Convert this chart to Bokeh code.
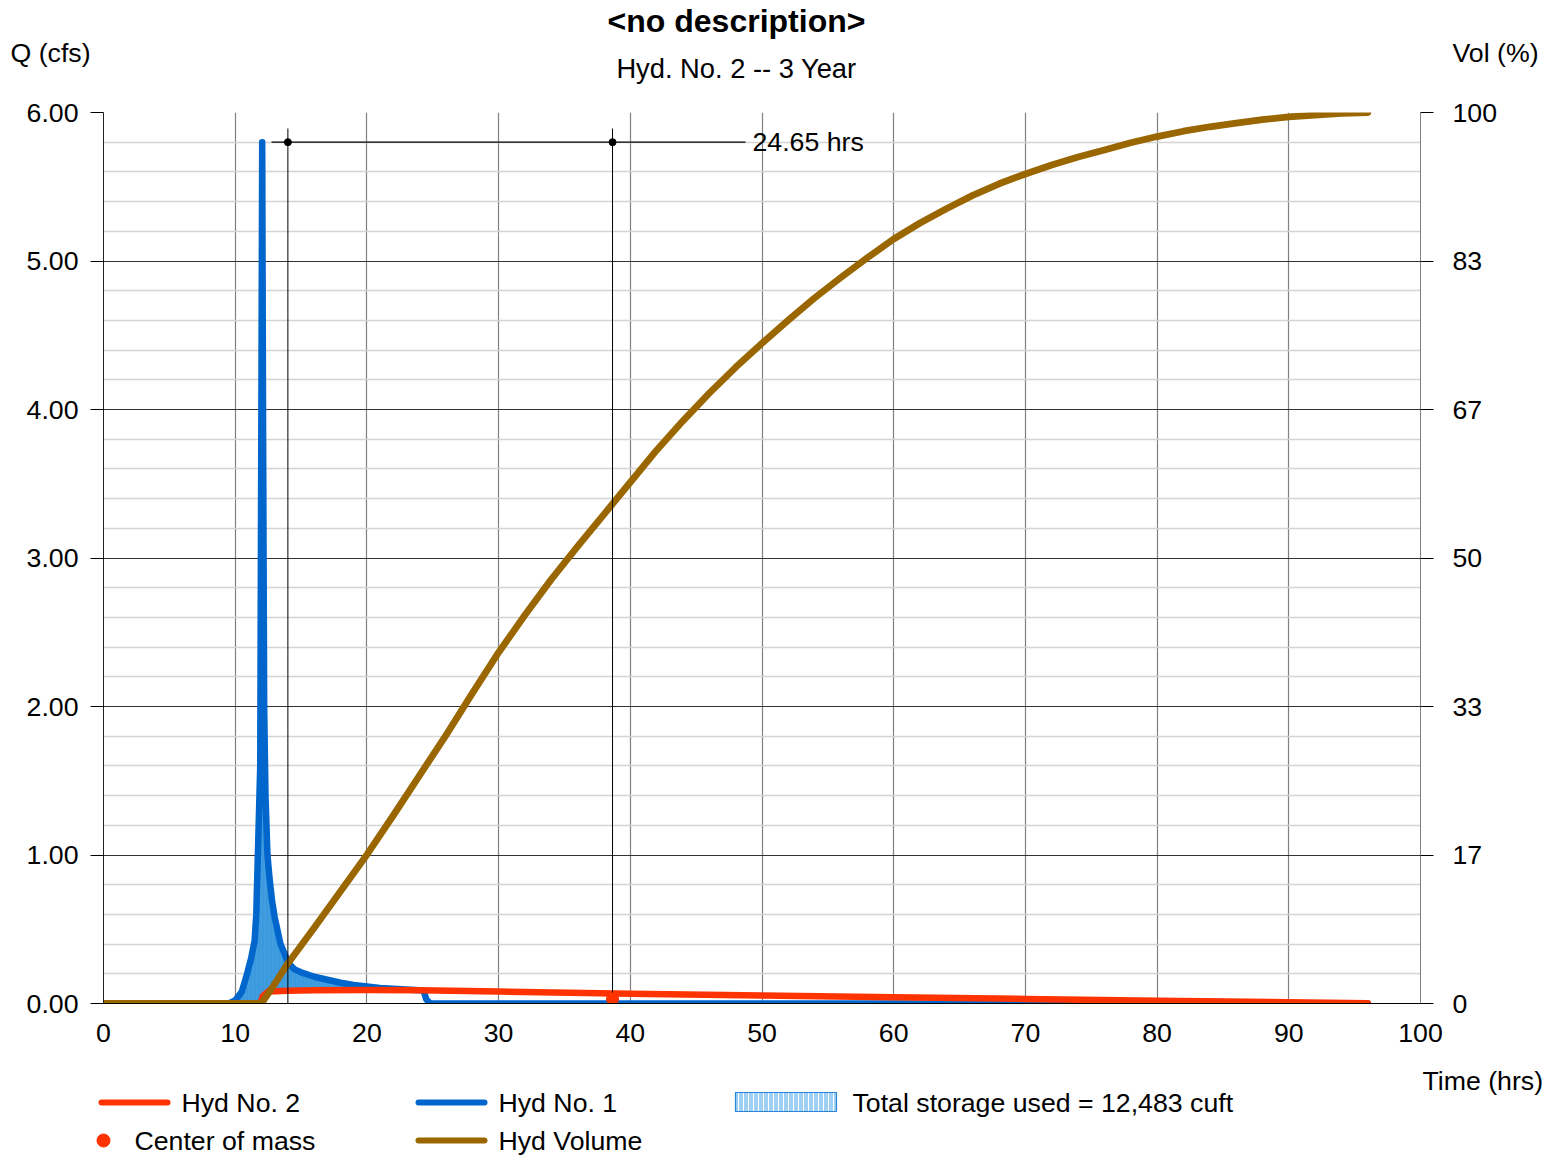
import numpy as np
from bokeh.plotting import figure
from bokeh.layouts import column
from bokeh.models import (Range1d, LinearAxis, FixedTicker, NumeralTickFormatter, Label,
                          ColumnDataSource)
from bokeh.core.properties import value
from bokeh.embed import file_html
from bokeh.resources import INLINE

# ---------------- data ----------------
# Hyd No. 1 (inflow), cfs
hyd1_t = [0, 9.0, 9.5, 10.0, 10.5, 10.9, 11.2, 11.47, 11.6, 11.72, 11.9, 11.98, 12.05, 12.12,
          12.2, 12.3, 12.45, 12.6, 12.8, 13.0, 13.44, 14.05, 14.5, 15.0, 16.0, 17.0, 18.0,
          19.0, 20.0, 21.0, 22.0, 23.0, 24.0, 24.3, 24.5, 24.8, 96.0]
hyd1_q = [0, 0, 0.0, 0.02, 0.08, 0.2, 0.3, 0.42, 0.6, 1.0, 1.6, 3.8, 5.8, 3.8,
          2.0, 1.4, 1.0, 0.85, 0.69, 0.58, 0.4, 0.27, 0.23, 0.21, 0.18, 0.16, 0.14,
          0.125, 0.115, 0.105, 0.1, 0.095, 0.09, 0.088, 0.03, 0.0, 0.0]

# Hyd No. 2 (outflow), cfs
hyd2_t = [0, 11.9, 12.1, 12.5, 14, 16, 20, 24, 30, 40, 50, 60, 70, 80, 90, 96]
hyd2_q = [0, 0, 0.05, 0.081, 0.086, 0.089, 0.091, 0.09, 0.081, 0.066, 0.054, 0.042,
          0.031, 0.019, 0.009, 0.002]

# Hyd Volume (cumulative outflow volume), %
vol_t = [0, 12, 13, 14, 16, 18, 20, 22, 24, 26, 28, 30, 32, 34, 36, 38, 40, 42, 44, 46, 48,
         50, 52, 54, 56, 58, 60, 62, 64, 66, 68, 70, 72, 74, 76, 78, 80, 82, 84, 86, 88,
         90, 92, 94, 96]
vol_pct = [0, 0, 2.2, 4.5, 8.5, 12.6, 16.7, 21.1, 25.6, 30.1, 34.8, 39.4, 43.6, 47.6, 51.3,
           54.9, 58.5, 62.1, 65.4, 68.5, 71.4, 74.1, 76.7, 79.2, 81.5, 83.7, 85.8, 87.6,
           89.2, 90.7, 92.0, 93.1, 94.1, 95.0, 95.8, 96.6, 97.3, 97.9, 98.4, 98.8, 99.2,
           99.5, 99.7, 99.9, 100.0]

peak_q = 5.80
cm_in_t = 14.00      # centroid of inflow hydrograph
cm_out_t = 38.65     # center of mass of outflow hydrograph
cm_out_q = 0.03
total_storage = 12483

x_ticks = list(range(0, 101, 10))
q_ticks = [0, 1, 2, 3, 4, 5, 6]
q_minor = [i * 0.2 for i in range(31) if i % 5 != 0]
vol_ticks = [i * 100 / 6 for i in range(7)]

title_text = "<no description>"
subtitle_text = "Hyd. No. 2 -- 3 Year"
legend_labels = ["Hyd No. 2", "Center of mass", "Hyd No. 1", "Hyd Volume",
                 f"Total storage used = {total_storage:,} cuft"]

FONT = "Liberation Sans"
FS = "26.7px"
RED = "#ff3300"
BLUE = "#0066cc"
BROWN = "#996600"

W = 1546
TOP_H, MAIN_H, BOT_H = 90, 970, 95      # total 1155

def blank(h):
    f = figure(width=W, height=h, output_backend="svg", toolbar_location=None,
               x_range=Range1d(0, W), y_range=Range1d(h, 0),
               min_border=0, x_axis_location=None, y_axis_location=None,
               frame_align=False)
    f.grid.visible = False
    f.outline_line_color = None
    f.background_fill_color = "white"
    f.border_fill_color = "white"
    return f

def txt(f, x, y, text, align="left", size=FS, style="normal"):
    f.text(x=[x], y=[y], text=[text], text_font=value(FONT), text_font_size=value(size),
           text_font_style=style, text_align=align, text_baseline="middle",
           text_color="black")

# ---------------- top strip: titles ----------------
top = blank(TOP_H)
txt(top, 736, 20, title_text, align="center", size="32px", style="bold")
txt(top, 736, 68, subtitle_text, align="center", size="27.3px")
txt(top, 10, 52, "Q (cfs)")
txt(top, 1452, 52, "Vol (%)")

# ---------------- main chart ----------------
p = figure(width=W, height=MAIN_H, output_backend="svg", toolbar_location=None,
           x_range=Range1d(0, 100), y_range=Range1d(0, 6),
           min_border_left=103, min_border_right=126, min_border_top=22,
           min_border_bottom=57, x_axis_location=None, y_axis_location=None,
           frame_align=False)
p.outline_line_color = None
p.background_fill_color = "white"
p.border_fill_color = "white"
p.extra_y_ranges = {"vol": Range1d(0, 100)}

xaxis = LinearAxis(ticker=FixedTicker(ticks=x_ticks))
xaxis.major_tick_out = 0
xaxis.major_tick_in = 0
xaxis.minor_tick_out = 0
xaxis.minor_tick_in = 0
xaxis.axis_line_color = "black"
xaxis.major_label_standoff = 20
xaxis.major_label_text_font = FONT
xaxis.major_label_text_font_size = FS
xaxis.major_label_text_color = "black"
p.add_layout(xaxis, "below")

yaxis = LinearAxis(ticker=FixedTicker(ticks=q_ticks, minor_ticks=q_minor),
                   formatter=NumeralTickFormatter(format="0.00"))
yaxis.major_tick_out = 13
yaxis.major_tick_in = 0
yaxis.minor_tick_out = 0
yaxis.minor_tick_in = 0
yaxis.major_tick_line_color = "black"
yaxis.axis_line_color = "#222222"
yaxis.major_label_standoff = 12
yaxis.major_label_text_font = FONT
yaxis.major_label_text_font_size = FS
yaxis.major_label_text_color = "black"
p.add_layout(yaxis, "left")

raxis = LinearAxis(y_range_name="vol", ticker=FixedTicker(ticks=vol_ticks),
                   formatter=NumeralTickFormatter(format="0"))
raxis.major_tick_out = 13
raxis.major_tick_in = 0
raxis.minor_tick_out = 0
raxis.minor_tick_in = 0
raxis.major_tick_line_color = "black"
raxis.axis_line_color = "#808080"
raxis.major_label_standoff = 19
raxis.major_label_text_font = FONT
raxis.major_label_text_font_size = FS
raxis.major_label_text_color = "black"
p.add_layout(raxis, "right")

p.xgrid.ticker = xaxis.ticker
p.xgrid.grid_line_color = "#808080"
p.xgrid.grid_line_width = 1.2
p.ygrid.ticker = yaxis.ticker
p.ygrid.grid_line_color = "#333333"
p.ygrid.grid_line_width = 1
p.ygrid.minor_grid_line_color = "#d4d4d4"
p.ygrid.minor_grid_line_width = 1.5

# storage fill between inflow and outflow
grid_t = np.union1d(np.array(hyd1_t, float), np.array(hyd2_t, float))
grid_t = np.union1d(grid_t, np.linspace(9, 25, 400))
b = np.interp(grid_t, hyd1_t, hyd1_q)
r = np.interp(grid_t, hyd2_t, hyd2_q)
fill_src = ColumnDataSource(dict(t=grid_t, lo=r, hi=np.maximum(b, r)))
p.varea(x="t", y1="lo", y2="hi", source=fill_src, fill_color="#3f9de0",
        hatch_pattern="|", hatch_color="#2a8ad6", hatch_alpha=0.35, hatch_scale=4,
        hatch_weight=1)

# drawing order as in the reference: inflow, outflow, volume on top
p.line(hyd1_t, hyd1_q, line_color=BLUE, line_width=6.5, line_cap="round",
       line_join="round")
p.line(hyd2_t, hyd2_q, line_color=RED, line_width=6.5, line_cap="round",
       line_join="round")
p.line(vol_t, vol_pct, y_range_name="vol", line_color=BROWN, line_width=6.8,
       line_cap="round", line_join="round")

# center-of-mass dimension
FT_PX, FB_PX, FL_PX, FR_PX = 112, 1003, 103, 1420
def T(px):
    return (px - FL_PX) * 100.0 / (FR_PX - FL_PX)
def Q(py):
    return (FB_PX - py) * 6.0 / (FB_PX - FT_PX)

p.segment(x0=[cm_in_t, cm_out_t], y0=[0, cm_out_q], x1=[cm_in_t, cm_out_t],
          y1=[Q(128), Q(128)], line_color="black", line_width=1)
p.segment(x0=[T(271)], y0=[peak_q], x1=[T(745)], y1=[peak_q], line_color="black",
          line_width=1.2)
p.scatter([cm_in_t, cm_out_t], [peak_q, peak_q], size=7, color="black")
p.scatter([cm_out_t], [cm_out_q], size=12, color=RED, line_color=RED)
p.add_layout(Label(x=T(752), y=peak_q, text=f"{cm_out_t - cm_in_t:.2f} hrs",
                   text_font=FONT, text_font_size=FS, text_baseline="middle",
                   text_color="black"))

# ---------------- bottom strip: axis title + legend ----------------
bot = blank(BOT_H)
txt(bot, 1422, 20, "Time (hrs)")
row1, row2 = 42, 80
bot.line([101, 167], [row1, row1], line_color=RED, line_width=6, line_cap="round")
txt(bot, 181, row1, legend_labels[0])
bot.scatter([103], [row2], size=13, color=RED, line_color=RED)
txt(bot, 134, row2, legend_labels[1])
bot.line([418, 484], [row1, row1], line_color=BLUE, line_width=6, line_cap="round")
txt(bot, 498, row1, legend_labels[2])
bot.line([418, 484], [row2, row2], line_color=BROWN, line_width=6, line_cap="round")
txt(bot, 498, row2, legend_labels[3])
bot.quad(left=[735], right=[836], top=[32], bottom=[51], fill_color="#9fcff3",
         hatch_pattern="|", hatch_color="#ffffff", hatch_scale=5, hatch_weight=1,
         line_color="#2a85d8", line_width=1.2)
txt(bot, 852, row1, legend_labels[4])

layout = column(top, p, bot, spacing=0)
open("out.html", "w").write(file_html(layout, INLINE))
